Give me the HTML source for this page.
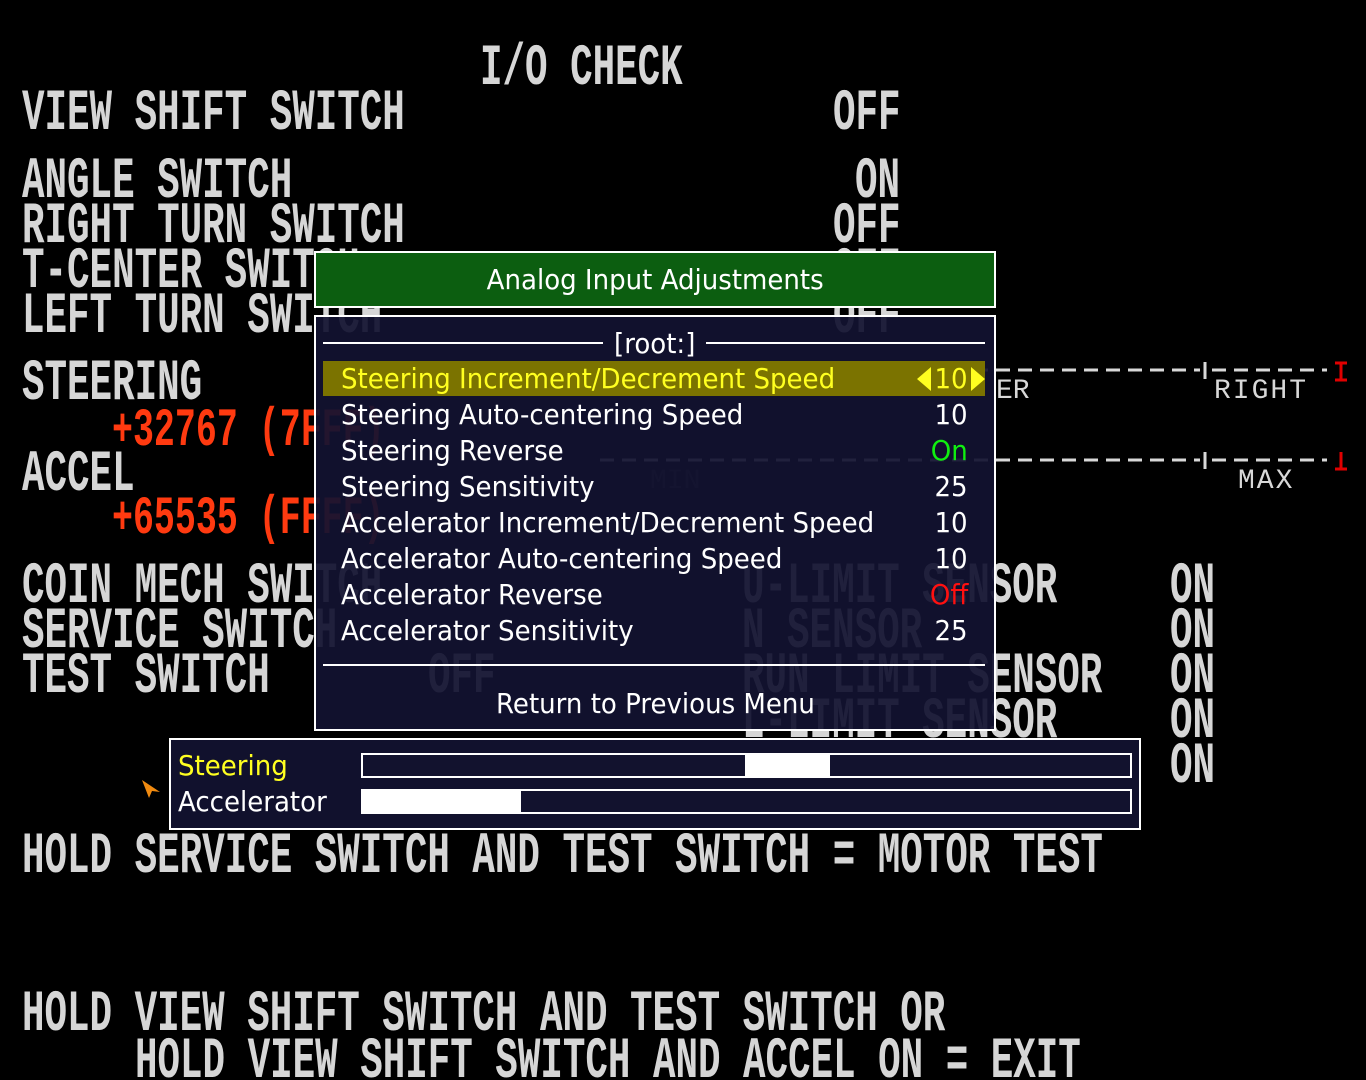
<!DOCTYPE html>
<html><head><meta charset="utf-8"><style>
html,body{margin:0;padding:0;background:#000;width:1366px;height:1080px;overflow:hidden;position:relative}
.t{position:absolute;font-family:"Liberation Mono",monospace;font-weight:bold;font-size:58px;line-height:58px;color:#d6d6d6;white-space:pre;transform:scaleX(0.647);transform-origin:0 0;letter-spacing:0}
.r{color:#ff3a10;font-size:54px;line-height:54px}
.s{position:absolute;font-family:"Liberation Mono",monospace;font-size:28px;line-height:28px;color:#d8d8d8;white-space:pre}
.panel{position:absolute;box-sizing:border-box;border:2px solid #fff;background:rgba(18,18,48,0.93)}
.m{position:absolute;font-family:"DejaVu Sans","Liberation Sans",sans-serif;font-size:28px;line-height:36px;color:#fff;white-space:pre;transform:scaleX(0.93);transform-origin:0 0}
.v{position:absolute;font-family:"DejaVu Sans","Liberation Sans",sans-serif;font-size:28px;line-height:36px;color:#fff;white-space:pre;text-align:right;transform:scaleX(0.93);transform-origin:100% 0}
</style></head><body>
<div class="t" style="left:480px;top:41px">I/O CHECK</div>
<div class="t" style="left:22px;top:86px">VIEW SHIFT SWITCH</div>
<div class="t" style="left:833px;top:86px">OFF</div>
<div class="t" style="left:22px;top:154px">ANGLE SWITCH</div>
<div class="t" style="left:855px;top:154px">ON</div>
<div class="t" style="left:22px;top:199px">RIGHT TURN SWITCH</div>
<div class="t" style="left:833px;top:199px">OFF</div>
<div class="t" style="left:22px;top:244px">T-CENTER SWITCH</div>
<div class="t" style="left:833px;top:244px">OFF</div>
<div class="t" style="left:22px;top:289px">LEFT TURN SWITCH</div>
<div class="t" style="left:833px;top:289px">OFF</div>
<div class="t" style="left:22px;top:356px">STEERING</div>
<div class="t r" style="left:112px;top:405px">+32767 (7FFF)</div>
<div class="t" style="left:22px;top:447px">ACCEL</div>
<div class="t r" style="left:112px;top:493px">+65535 (FFFF)</div>
<div class="t" style="left:22px;top:559px">COIN MECH SWITCH</div>
<div class="t" style="left:22px;top:604px">SERVICE SWITCH</div>
<div class="t" style="left:22px;top:649px">TEST SWITCH</div>
<div class="t" style="left:428px;top:649px">OFF</div>
<div class="t" style="left:742px;top:559px">U-LIMIT SENSOR</div>
<div class="t" style="left:742px;top:604px">N SENSOR</div>
<div class="t" style="left:742px;top:649px">RUN LIMIT SENSOR</div>
<div class="t" style="left:742px;top:694px">L-LIMIT SENSOR</div>
<div class="t" style="left:1170px;top:559px">ON</div>
<div class="t" style="left:1170px;top:604px">ON</div>
<div class="t" style="left:1170px;top:649px">ON</div>
<div class="t" style="left:1170px;top:694px">ON</div>
<div class="t" style="left:1170px;top:739px">ON</div>
<div class="t" style="left:22px;top:829px">HOLD SERVICE SWITCH AND TEST SWITCH = MOTOR TEST</div>
<div class="t" style="left:22px;top:987px">HOLD VIEW SHIFT SWITCH AND TEST SWITCH OR</div>
<div class="t" style="left:135px;top:1034px">HOLD VIEW SHIFT SWITCH AND ACCEL ON = EXIT</div>

<svg style="position:absolute;left:0;top:0" width="1366" height="1080">
<g stroke="#d8d8d8" stroke-width="3">
<line x1="600" y1="370" x2="1200" y2="370" stroke-dasharray="14 8"/>
<line x1="1212" y1="370" x2="1327" y2="370" stroke-dasharray="14 8"/>
<line x1="1205" y1="362" x2="1205" y2="379"/>
<line x1="600" y1="460" x2="1200" y2="460" stroke-dasharray="14 8"/>
<line x1="1212" y1="460" x2="1327" y2="460" stroke-dasharray="14 8"/>
<line x1="1205" y1="452" x2="1205" y2="469"/>
</g>
<g stroke="#e00000" stroke-width="3">
<line x1="1335" y1="363" x2="1347" y2="363"/><line x1="1341" y1="363" x2="1341" y2="380"/><line x1="1335" y1="380" x2="1347" y2="380"/>
<line x1="1341" y1="452" x2="1341" y2="469"/><line x1="1335" y1="469" x2="1347" y2="469"/>
</g>
</svg>
<div class="s" style="left:996px;top:378px">ER</div>
<div class="s" style="left:1214px;top:378px;letter-spacing:2px">RIGHT</div>
<div class="s" style="left:1238px;top:468px;letter-spacing:2px">MAX</div>
<div class="s" style="left:650px;top:468px;color:#333">MIN</div>

<div class="panel" style="left:314px;top:251px;width:682px;height:57px;background:#0c5e10"></div>
<div style="position:absolute;left:314px;top:262px;width:682px;text-align:center;font-family:'DejaVu Sans','Liberation Sans',sans-serif;font-size:28px;line-height:36px;color:#fff"><span style="display:inline-block;transform:scaleX(0.93)">Analog Input Adjustments</span></div>

<div class="panel" style="left:314px;top:315px;width:682px;height:416px"></div>
<div style="position:absolute;left:323px;top:342px;width:280px;height:2px;background:#fff"></div>
<div style="position:absolute;left:706px;top:342px;width:279px;height:2px;background:#fff"></div>
<div style="position:absolute;left:314px;top:326px;width:682px;text-align:center;font-family:'DejaVu Sans','Liberation Sans',sans-serif;font-size:28px;line-height:36px;color:#fff"><span style="display:inline-block;transform:scaleX(0.93)">[root:]</span></div>
<div style="position:absolute;left:323px;top:361px;width:662px;height:35px;background:#7b7300"></div>
<div class="m" style="left:341px;top:361px;color:#ffff20">Steering Increment/Decrement Speed</div>
<div style="position:absolute;left:917px;top:367px;width:0;height:0;border-top:12px solid transparent;border-bottom:12px solid transparent;border-right:14px solid #ffff20"></div>
<div style="position:absolute;left:971px;top:367px;width:0;height:0;border-top:12px solid transparent;border-bottom:12px solid transparent;border-left:14px solid #ffff20"></div>
<div class="v" style="right:398px;top:361px;color:#ffff20">10</div>
<div class="m" style="left:341px;top:397px">Steering Auto-centering Speed</div>
<div class="v" style="right:398px;top:397px">10</div>
<div class="m" style="left:341px;top:433px">Steering Reverse</div>
<div class="v" style="right:398px;top:433px;color:#10f010">On</div>
<div class="m" style="left:341px;top:469px">Steering Sensitivity</div>
<div class="v" style="right:398px;top:469px">25</div>
<div class="m" style="left:341px;top:505px">Accelerator Increment/Decrement Speed</div>
<div class="v" style="right:398px;top:505px">10</div>
<div class="m" style="left:341px;top:541px">Accelerator Auto-centering Speed</div>
<div class="v" style="right:398px;top:541px">10</div>
<div class="m" style="left:341px;top:577px">Accelerator Reverse</div>
<div class="v" style="right:398px;top:577px;color:#ff1010">Off</div>
<div class="m" style="left:341px;top:613px">Accelerator Sensitivity</div>
<div class="v" style="right:398px;top:613px">25</div>
<div style="position:absolute;left:323px;top:664px;width:662px;height:2px;background:#fff"></div>
<div style="position:absolute;left:314px;top:686px;width:682px;text-align:center;font-family:'DejaVu Sans','Liberation Sans',sans-serif;font-size:28px;line-height:36px;color:#fff"><span style="display:inline-block;transform:scaleX(0.93)">Return to Previous Menu</span></div>

<div class="panel" style="left:169px;top:738px;width:972px;height:92px"></div>
<div class="m" style="left:178px;top:748px;color:#ffff20">Steering</div>
<div class="m" style="left:178px;top:784px">Accelerator</div>
<div style="position:absolute;left:361px;top:753px;width:771px;height:25px;box-sizing:border-box;border:2px solid #fff;background:#12122e"></div>
<div style="position:absolute;left:745px;top:753px;width:85px;height:25px;background:#fff"></div>
<div style="position:absolute;left:361px;top:789px;width:771px;height:25px;box-sizing:border-box;border:2px solid #fff;background:#12122e"></div>
<div style="position:absolute;left:361px;top:789px;width:160px;height:25px;background:#fff"></div>
<svg style="position:absolute;left:140px;top:778px" width="24" height="24"><polygon points="2,2 20,14 12,13 9,20" fill="#f08a10"/></svg>
</body></html>
